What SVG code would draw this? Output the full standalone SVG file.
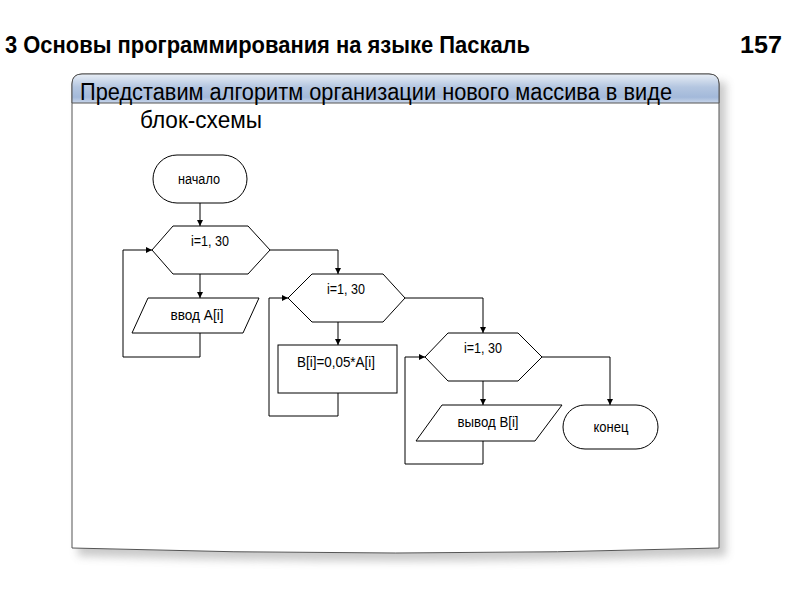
<svg xmlns="http://www.w3.org/2000/svg" width="800" height="600" viewBox="0 0 800 600">
<defs>
<linearGradient id="hdr" x1="0" y1="0" x2="0" y2="1">
<stop offset="0" stop-color="#e8eef6"/>
<stop offset="0.45" stop-color="#b4c6e0"/>
<stop offset="0.8" stop-color="#a3b9da"/>
<stop offset="1" stop-color="#c9d6ea"/>
</linearGradient>
<filter id="sh" x="-5%" y="-5%" width="110%" height="115%">
<feGaussianBlur stdDeviation="4"/>
</filter>
<marker id="arr" viewBox="0 0 10 10" refX="10" refY="5" markerWidth="6" markerHeight="6" orient="auto" markerUnits="userSpaceOnUse">
<path d="M0,0 L10,5 L0,10 z" fill="#000"/>
</marker>
</defs>
<style>
.title{font-family:"Liberation Sans Narrow","Liberation Sans",Arial,sans-serif;font-weight:bold;font-size:24px;fill:#000}
.sub{font-family:"Liberation Sans Narrow","Liberation Sans",Arial,sans-serif;font-size:23px;fill:#000}
.shape{fill:#fff;stroke:#000;stroke-width:1}
.lbl{font-family:"Liberation Sans Narrow","Liberation Sans",Arial,sans-serif;font-size:14px;fill:#000;text-anchor:middle}
.conn{fill:none;stroke:#000;stroke-width:1}
</style>
<rect width="800" height="600" fill="#fff"/>
<text class="title" x="5" y="53" textLength="525" lengthAdjust="spacingAndGlyphs">3 Основы программирования на языке Паскаль</text>
<text class="title" x="740" y="53" textLength="42" lengthAdjust="spacingAndGlyphs">157</text>

<g id="panel">
<path d="M78,82 L726,82 L726,556 Q400,566 78,556 Z" fill="#888" opacity="0.45" filter="url(#sh)"/>
<path d="M72,84 Q72,74 82,74 L709,74 Q719,74 719,84 L719,548 Q396,558 72,548 Z" fill="#fff" stroke="#555" stroke-width="1"/>
<path d="M72,103 L72,84 Q72,74 82,74 L709,74 Q719,74 719,84 L719,103 Z" fill="url(#hdr)" stroke="#555" stroke-width="1"/>
<text class="sub" x="80" y="100" textLength="592" lengthAdjust="spacingAndGlyphs">Представим алгоритм организации нового массива в виде</text>
<text class="sub" x="140" y="128" textLength="122" lengthAdjust="spacingAndGlyphs">блок-схемы</text>
</g>

<g id="connectors">
<line class="conn" x1="200" y1="203" x2="200" y2="226" marker-end="url(#arr)"/>
<line class="conn" x1="200" y1="274" x2="200" y2="298" marker-end="url(#arr)"/>
<polyline class="conn" points="200,333 200,357 123,357 123,250 152,250" marker-end="url(#arr)"/>
<polyline class="conn" points="270,250 338,250 338,274" marker-end="url(#arr)"/>
<line class="conn" x1="338" y1="322" x2="338" y2="345" marker-end="url(#arr)"/>
<polyline class="conn" points="338,393 338,416 269,416 269,298 288,298" marker-end="url(#arr)"/>
<polyline class="conn" points="405,298 483,298 483,333" marker-end="url(#arr)"/>
<line class="conn" x1="483" y1="381" x2="483" y2="405" marker-end="url(#arr)"/>
<polyline class="conn" points="483,441 483,464 405,464 405,357 425,357" marker-end="url(#arr)"/>
<polyline class="conn" points="542,357 610,357 610,405" marker-end="url(#arr)"/>
</g>

<g id="start">
<rect class="shape" x="153" y="155" width="94" height="48" rx="24" ry="24"/>
<text class="lbl" x="199" y="184" textLength="42" lengthAdjust="spacingAndGlyphs">начало</text>
</g>
<g id="loop1">
<polygon class="shape" points="152,250 173,226 248,226 270,250 248,274 173,274"/>
<text class="lbl" x="210" y="246" textLength="38" lengthAdjust="spacingAndGlyphs">i=1, 30</text>
</g>
<g id="inputA">
<polygon class="shape" points="148,298 259,298 243,333 132,333"/>
<text class="lbl" x="197" y="320" textLength="53" lengthAdjust="spacingAndGlyphs">ввод A[i]</text>
</g>
<g id="loop2">
<polygon class="shape" points="288,298 312,274 383,274 405,298 383,322 312,322"/>
<text class="lbl" x="346" y="294" textLength="38" lengthAdjust="spacingAndGlyphs">i=1, 30</text>
</g>
<g id="calcB">
<rect class="shape" x="278" y="345" width="119" height="48"/>
<text class="lbl" x="336" y="367" textLength="78" lengthAdjust="spacingAndGlyphs">B[i]=0,05*A[i]</text>
</g>
<g id="loop3">
<polygon class="shape" points="425,357 448,333 518,333 542,357 518,381 448,381"/>
<text class="lbl" x="483" y="353" textLength="38" lengthAdjust="spacingAndGlyphs">i=1, 30</text>
</g>
<g id="outputB">
<polygon class="shape" points="442,405 562,405 535,441 416,441"/>
<text class="lbl" x="488" y="427" textLength="61" lengthAdjust="spacingAndGlyphs">вывод B[i]</text>
</g>
<g id="end">
<rect class="shape" x="563" y="405" width="95" height="44" rx="22" ry="22"/>
<text class="lbl" x="611" y="432" textLength="35" lengthAdjust="spacingAndGlyphs">конец</text>
</g>
</svg>
